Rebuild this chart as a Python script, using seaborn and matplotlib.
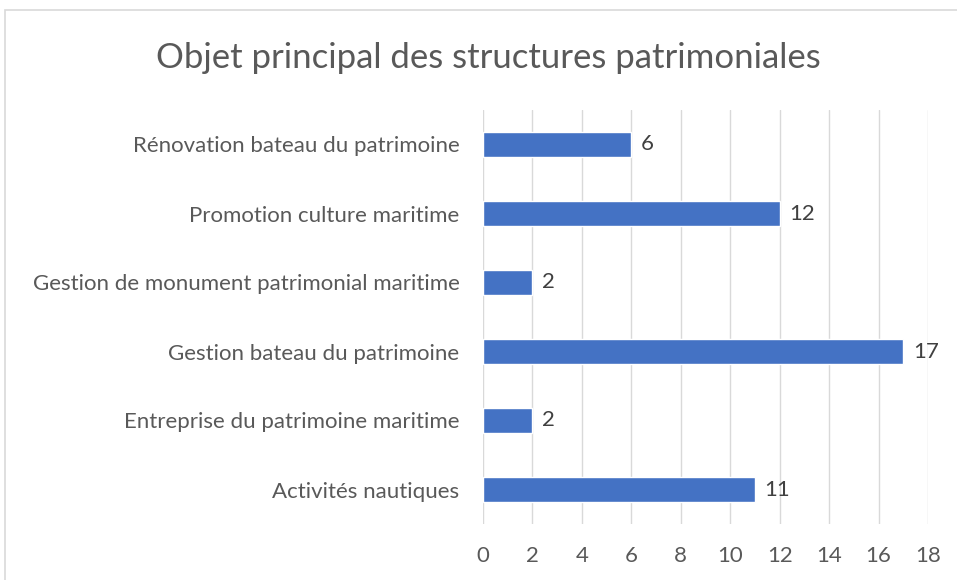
import pandas as pd
import seaborn as sns
import matplotlib.pyplot as plt
from matplotlib.patches import Rectangle

categories = [
    "Rénovation bateau du patrimoine",
    "Promotion culture maritime",
    "Gestion de monument patrimonial maritime",
    "Gestion bateau du patrimoine",
    "Entreprise du patrimoine maritime",
    "Activités nautiques",
]
counts = [6, 12, 2, 17, 2, 11]
x_ticks = [0, 2, 4, 6, 8, 10, 12, 14, 16, 18]

TEXT = "#595959"
BAR = "#4472C4"
GRID = "#D9D9D9"

sns.set_style("white")
plt.rcParams["font.family"] = ["Lato", "DejaVu Sans"]

df = pd.DataFrame({"categorie": categories, "nombre": counts})

fig = plt.figure(figsize=(9.57, 5.8), dpi=100)
ax = fig.add_axes([483 / 957, 1 - 524 / 580, 445 / 957, 414 / 580])

sns.barplot(data=df, y="categorie", x="nombre", orient="h", color=BAR,
            saturation=1, width=0.36, ax=ax)

ax.set_xlim(0, 18)
ax.set_ylim(5.5, -0.5)
ax.set_xticks(x_ticks)
ax.set_xticklabels([str(t) for t in x_ticks], fontsize=16, color=TEXT)
ax.tick_params(axis="y", labelsize=16, labelcolor=TEXT, length=0, pad=17)
ax.tick_params(axis="x", length=0, pad=16)
ax.set_xlabel("")
ax.set_ylabel("")
ax.grid(axis="x", color=GRID, linewidth=1)
ax.set_axisbelow(True)
for s in ax.spines.values():
    s.set_visible(False)

for c in ax.containers:
    ax.bar_label(c, padding=7, fontsize=16, color="#404040")

fig.text(488 / 957, 1 - 58 / 580, "Objet principal des structures patrimoniales",
         ha="center", va="center", fontsize=25, color=TEXT)

fig.patches.append(Rectangle((5 / 957, -0.1), 1.2, 1 - 10 / 580 + 0.1,
                             transform=fig.transFigure, fill=False,
                             edgecolor=GRID, linewidth=1.2))

plt.savefig("out.png", dpi=100)
